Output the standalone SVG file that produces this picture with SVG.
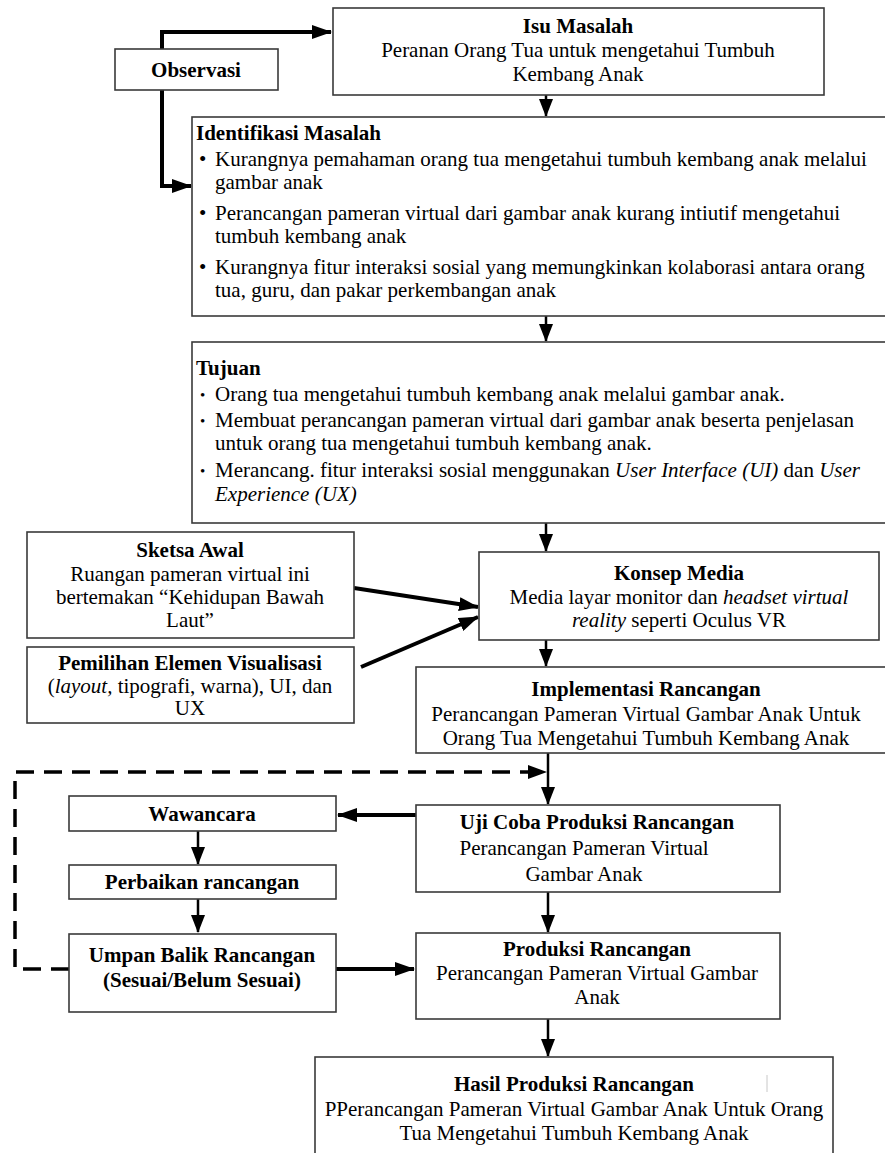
<svg xmlns="http://www.w3.org/2000/svg" width="885" height="1153" viewBox="0 0 885 1153">
<style>
.box{fill:#fff;stroke:#3a3a3a;stroke-width:1.6}
text{font-family:"Liberation Serif","Times New Roman",serif;font-size:21px;fill:#000}
.b{font-weight:bold}
.c{text-anchor:middle}
.i{font-style:italic}
.thick{fill:none;stroke:#000;stroke-width:4}
.thin{fill:none;stroke:#000;stroke-width:2.5}
.dash{fill:none;stroke:#000;stroke-width:3.5;stroke-dasharray:18 10}
</style>
<defs>
<marker id="ah" viewBox="0 0 20 14" refX="19" refY="7" markerWidth="20" markerHeight="14" markerUnits="userSpaceOnUse" orient="auto"><path d="M0,0 L20,7 L0,14 z" fill="#000"/></marker>
<marker id="as" viewBox="0 0 12 18" refX="6" refY="17" markerWidth="12" markerHeight="18" markerUnits="userSpaceOnUse" orient="auto-start-reverse"><path d="M0,0 L12,0 L6,18 z" fill="#000"/></marker>
<marker id="am" viewBox="0 0 18 14" refX="17" refY="7" markerWidth="18" markerHeight="14" markerUnits="userSpaceOnUse" orient="auto"><path d="M0,0 L18,7 L0,14 z" fill="#000"/></marker>
</defs>
<rect width="885" height="1153" fill="#fff"/>

<g id="connectors">
<path class="thick" d="M162,49 V32 H331" marker-end="url(#ah)"/>
<path class="thick" d="M162,90 V186 H191" marker-end="url(#ah)"/>
<path class="thin" d="M546,95 V116" marker-end="url(#am)"/>
<path class="thin" d="M546,316 V341" marker-end="url(#am)"/>
<path class="thin" d="M546,523 V551" marker-end="url(#am)"/>
<path class="thick" d="M354,588 L478,607" marker-end="url(#ah)"/>
<path class="thick" d="M361,667 L478,617" marker-end="url(#ah)"/>
<path class="thin" d="M546,640 V666" marker-end="url(#am)"/>
<path class="dash" d="M69,969 H15 V772 H530"/>
<path d="M528,765 L547,772 L528,779 z" fill="#000"/>
<path class="thin" d="M548,753 V804" marker-end="url(#am)"/>
<path class="thick" d="M416,815 H338" marker-end="url(#ah)"/>
<path class="thin" d="M198,831 V864" marker-end="url(#am)"/>
<path class="thin" d="M198,899 V932" marker-end="url(#am)"/>
<path class="thick" d="M336,969 H414" marker-end="url(#ah)"/>
<path class="thin" d="M548,892 V932" marker-end="url(#am)"/>
<path class="thin" d="M548,1019 V1056" marker-end="url(#am)"/>
</g>

<g id="observasi">
<rect class="box" x="115" y="49" width="163" height="41"/>
<text class="b c" x="196" y="77">Observasi</text>
</g>

<g id="isu-masalah">
<rect class="box" x="333" y="8" width="491" height="87"/>
<text class="b c" x="578" y="33">Isu Masalah</text>
<text class="c" x="578" y="57">Peranan Orang Tua untuk mengetahui Tumbuh</text>
<text class="c" x="578" y="81">Kembang Anak</text>
</g>

<g id="identifikasi-masalah">
<rect class="box" x="192" y="117" width="700" height="199"/>
<text class="b" x="196" y="140">Identifikasi Masalah</text>
<text x="199" y="166">•</text>
<text x="215" y="166">Kurangnya pemahaman orang tua mengetahui tumbuh kembang anak melalui</text>
<text x="215" y="189">gambar anak</text>
<text x="199" y="220">•</text>
<text x="215" y="220">Perancangan pameran virtual dari gambar anak kurang intiutif mengetahui</text>
<text x="215" y="243">tumbuh kembang anak</text>
<text x="199" y="274">•</text>
<text x="215" y="274">Kurangnya fitur interaksi sosial yang memungkinkan kolaborasi antara orang</text>
<text x="215" y="297">tua, guru, dan pakar perkembangan anak</text>
</g>

<g id="tujuan">
<rect class="box" x="192" y="342" width="700" height="181"/>
<text class="b" x="196" y="375">Tujuan</text>
<text x="200" y="400" style="font-size:15px">•</text>
<text x="215" y="401">Orang tua mengetahui tumbuh kembang anak melalui gambar anak.</text>
<text x="200" y="426" style="font-size:15px">•</text>
<text x="215" y="427">Membuat perancangan pameran virtual dari gambar anak beserta penjelasan</text>
<text x="215" y="450">untuk orang tua mengetahui tumbuh kembang anak.</text>
<text x="200" y="476" style="font-size:15px">•</text>
<text x="215" y="477">Merancang. fitur interaksi sosial menggunakan <tspan class="i">User Interface (UI)</tspan> dan <tspan class="i">User</tspan></text>
<text class="i" x="215" y="501">Experience (UX)</text>
</g>

<g id="sketsa-awal">
<rect class="box" x="27" y="532" width="327" height="106"/>
<text class="b c" x="190" y="557">Sketsa Awal</text>
<text class="c" x="190" y="581">Ruangan pameran virtual ini</text>
<text class="c" x="190" y="604">bertemakan “Kehidupan Bawah</text>
<text class="c" x="190" y="627">Laut”</text>
</g>

<g id="pemilihan-elemen">
<rect class="box" x="27" y="647" width="327" height="76"/>
<text class="b c" x="190" y="670">Pemilihan Elemen Visualisasi</text>
<text class="c" x="190" y="693">(<tspan class="i">layout,</tspan> tipografi, warna), UI, dan</text>
<text class="c" x="190" y="715">UX</text>
</g>

<g id="konsep-media">
<rect class="box" x="479" y="552" width="400" height="88"/>
<text class="b c" x="679" y="580">Konsep Media</text>
<text class="c" x="679" y="604">Media layar monitor dan <tspan class="i">headset virtual</tspan></text>
<text class="c" x="679" y="627"><tspan class="i">reality</tspan> seperti Oculus VR</text>
</g>

<g id="implementasi">
<rect class="box" x="416" y="667" width="480" height="86"/>
<text class="b c" x="646" y="696">Implementasi Rancangan</text>
<text class="c" x="646" y="721">Perancangan Pameran Virtual Gambar Anak Untuk</text>
<text class="c" x="646" y="745">Orang Tua Mengetahui Tumbuh Kembang Anak</text>
</g>

<g id="wawancara">
<rect class="box" x="69" y="796" width="267" height="35"/>
<text class="b c" x="202" y="821">Wawancara</text>
</g>

<g id="uji-coba">
<rect class="box" x="416" y="805" width="364" height="87"/>
<text class="b c" x="597" y="829">Uji Coba Produksi Rancangan</text>
<text class="c" x="584" y="855">Perancangan Pameran Virtual</text>
<text class="c" x="584" y="881">Gambar Anak</text>
</g>

<g id="perbaikan">
<rect class="box" x="69" y="865" width="267" height="34"/>
<text class="b c" x="202" y="889">Perbaikan rancangan</text>
</g>

<g id="umpan-balik">
<rect class="box" x="69" y="934" width="267" height="78"/>
<text class="b c" x="202" y="962">Umpan Balik Rancangan</text>
<text class="b c" x="202" y="987">(Sesuai/Belum Sesuai)</text>
</g>

<g id="produksi">
<rect class="box" x="416" y="933" width="364" height="86"/>
<text class="b c" x="597" y="956">Produksi Rancangan</text>
<text class="c" x="597" y="980">Perancangan Pameran Virtual Gambar</text>
<text class="c" x="597" y="1004">Anak</text>
</g>

<g id="hasil-produksi">
<rect class="box" x="315" y="1057" width="518" height="110"/>
<line x1="767" y1="1075" x2="767" y2="1092" stroke="#c8c8c8" stroke-width="1"/>
<text class="b c" x="574" y="1091">Hasil Produksi Rancangan</text>
<text class="c" x="574" y="1116">PPerancangan Pameran Virtual Gambar Anak Untuk Orang</text>
<text class="c" x="574" y="1140">Tua Mengetahui Tumbuh Kembang Anak</text>
</g>
</svg>
